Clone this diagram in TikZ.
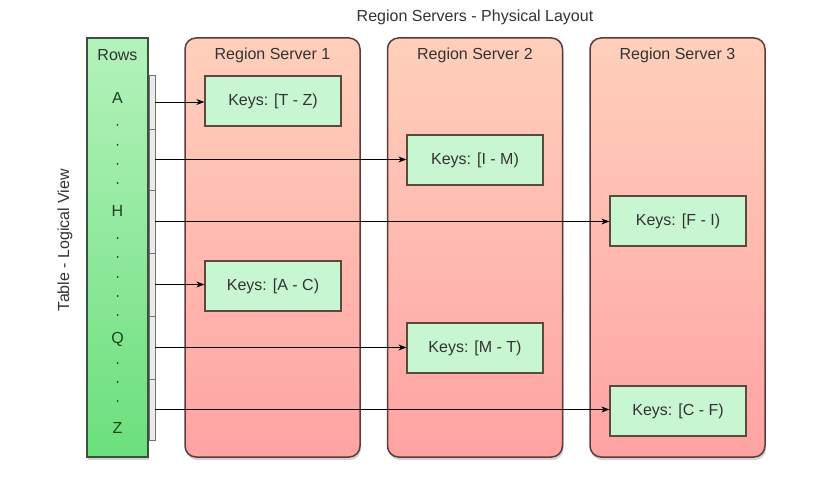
\documentclass[tikz,border=0pt]{standalone}
\usepackage{fontspec}
\setmainfont{Liberation Sans}
\usetikzlibrary{arrows.meta,shadows}

\definecolor{rowtop}{HTML}{B4F2BC}
\definecolor{rowbot}{HTML}{6BDF7C}
\definecolor{rowline}{HTML}{3D4F40}
\definecolor{srvtop}{HTML}{FFD0BC}
\definecolor{srvbot}{HTML}{FFA3A3}
\definecolor{srvline}{HTML}{5A3C3C}
\definecolor{keyfill}{HTML}{C9F6D2}
\definecolor{keyline}{HTML}{5A4A3C}
\definecolor{txt}{HTML}{333333}
\definecolor{rowtxt}{HTML}{1F3F22}

\begin{document}
\begin{tikzpicture}
        [
            x = 1pt, y = -1pt,
            > = {Stealth[length=8pt, width=6pt]},
            every node/.style = {font=\fontsize{16}{18}\selectfont, text=txt},
            server/.style = {
                draw=srvline, line width=1.5pt, rounded corners=11pt,
                top color=srvtop, bottom color=srvbot,
                minimum width=175pt, minimum height=419pt,
                drop shadow={shadow xshift=1pt, shadow yshift=-3pt, opacity=.35}},
            rows/.style = {
                draw=rowline, line width=1.5pt,
                top color=rowtop, bottom color=rowbot,
                minimum width=61pt, minimum height=419pt,
                drop shadow={shadow xshift=1pt, shadow yshift=-3pt, opacity=.35}},
            keys/.style = {
                draw=keyline, line width=1.3pt, fill=keyfill,
                minimum width=136pt, minimum height=50pt},
            bracket/.style = {
                draw=black!55, fill=black!8, inner sep=0pt,
                minimum width=6pt},
            letter/.style = {text=rowtxt},
            dot/.style = {circle, fill=rowtxt, inner sep=0pt, minimum size=2pt}
        ]
        \useasboundingbox (0,0) rectangle (817,481);

        % titles
        \node (title) at (475,17) {Region Servers - Physical Layout};
        \node [rotate=90] (logical) at (65,240) {Table - Logical View};

        % region servers
        \node [server] (RS1) at (272.5,247.5) {};
        \node [server] (RS2) at (475,247.5) {};
        \node [server] (RS3) at (677.5,247.5) {};
        \node (RS1head) at (272.5,55) {Region Server 1};
        \node (RS2head) at (475,55) {Region Server 2};
        \node (RS3head) at (677.5,55) {Region Server 3};

        % table rows
        \node [rows] (Rows) at (117.5,247.5) {};
        \node (Rowshead) at (117.5,55) {Rows};
        \node [letter] (A) at (117.5,98) {A};
        \node [letter] (H) at (117.5,211) {H};
        \node [letter] (Q) at (117.5,339) {Q};
        \node [letter] (Z) at (117.5,428) {Z};
        \foreach \y in {125,145,164,183,238,257,277,296,315,363,382,401}
            \node [dot] at (117.5,\y) {};

        % row ranges
        \node [bracket, minimum height=54pt] (seg1) at (152,102) {};
        \node [bracket, minimum height=61pt] (seg2) at (152,159.5) {};
        \node [bracket, minimum height=63pt] (seg3) at (152,221.5) {};
        \node [bracket, minimum height=63pt] (seg4) at (152,284.5) {};
        \node [bracket, minimum height=63pt] (seg5) at (152,347.5) {};
        \node [bracket, minimum height=61pt] (seg6) at (152,409.5) {};

        % regions
        \node [keys] (TZ) at (273,101) {Keys: [T - Z)};
        \node [keys] (IM) at (475,160) {Keys: [I - M)};
        \node [keys] (FI) at (678,221) {Keys: [F - I)};
        \node [keys] (AC) at (273,286) {Keys: [A - C)};
        \node [keys] (MT) at (475,348) {Keys: [M - T)};
        \node [keys] (CF) at (678,411) {Keys: [C - F)};

        \draw [->, line width=.9pt] (seg1.east) -- (seg1.east -| TZ.west);
        \draw [->, line width=.9pt] (seg2.east) -- (seg2.east -| IM.west);
        \draw [->, line width=.9pt] (seg3.east) -- (seg3.east -| FI.west);
        \draw [->, line width=.9pt] (seg4.east) -- (seg4.east -| AC.west);
        \draw [->, line width=.9pt] (seg5.east) -- (seg5.east -| MT.west);
        \draw [->, line width=.9pt] (seg6.east) -- (seg6.east -| CF.west);
    \end{tikzpicture}
\end{document}
